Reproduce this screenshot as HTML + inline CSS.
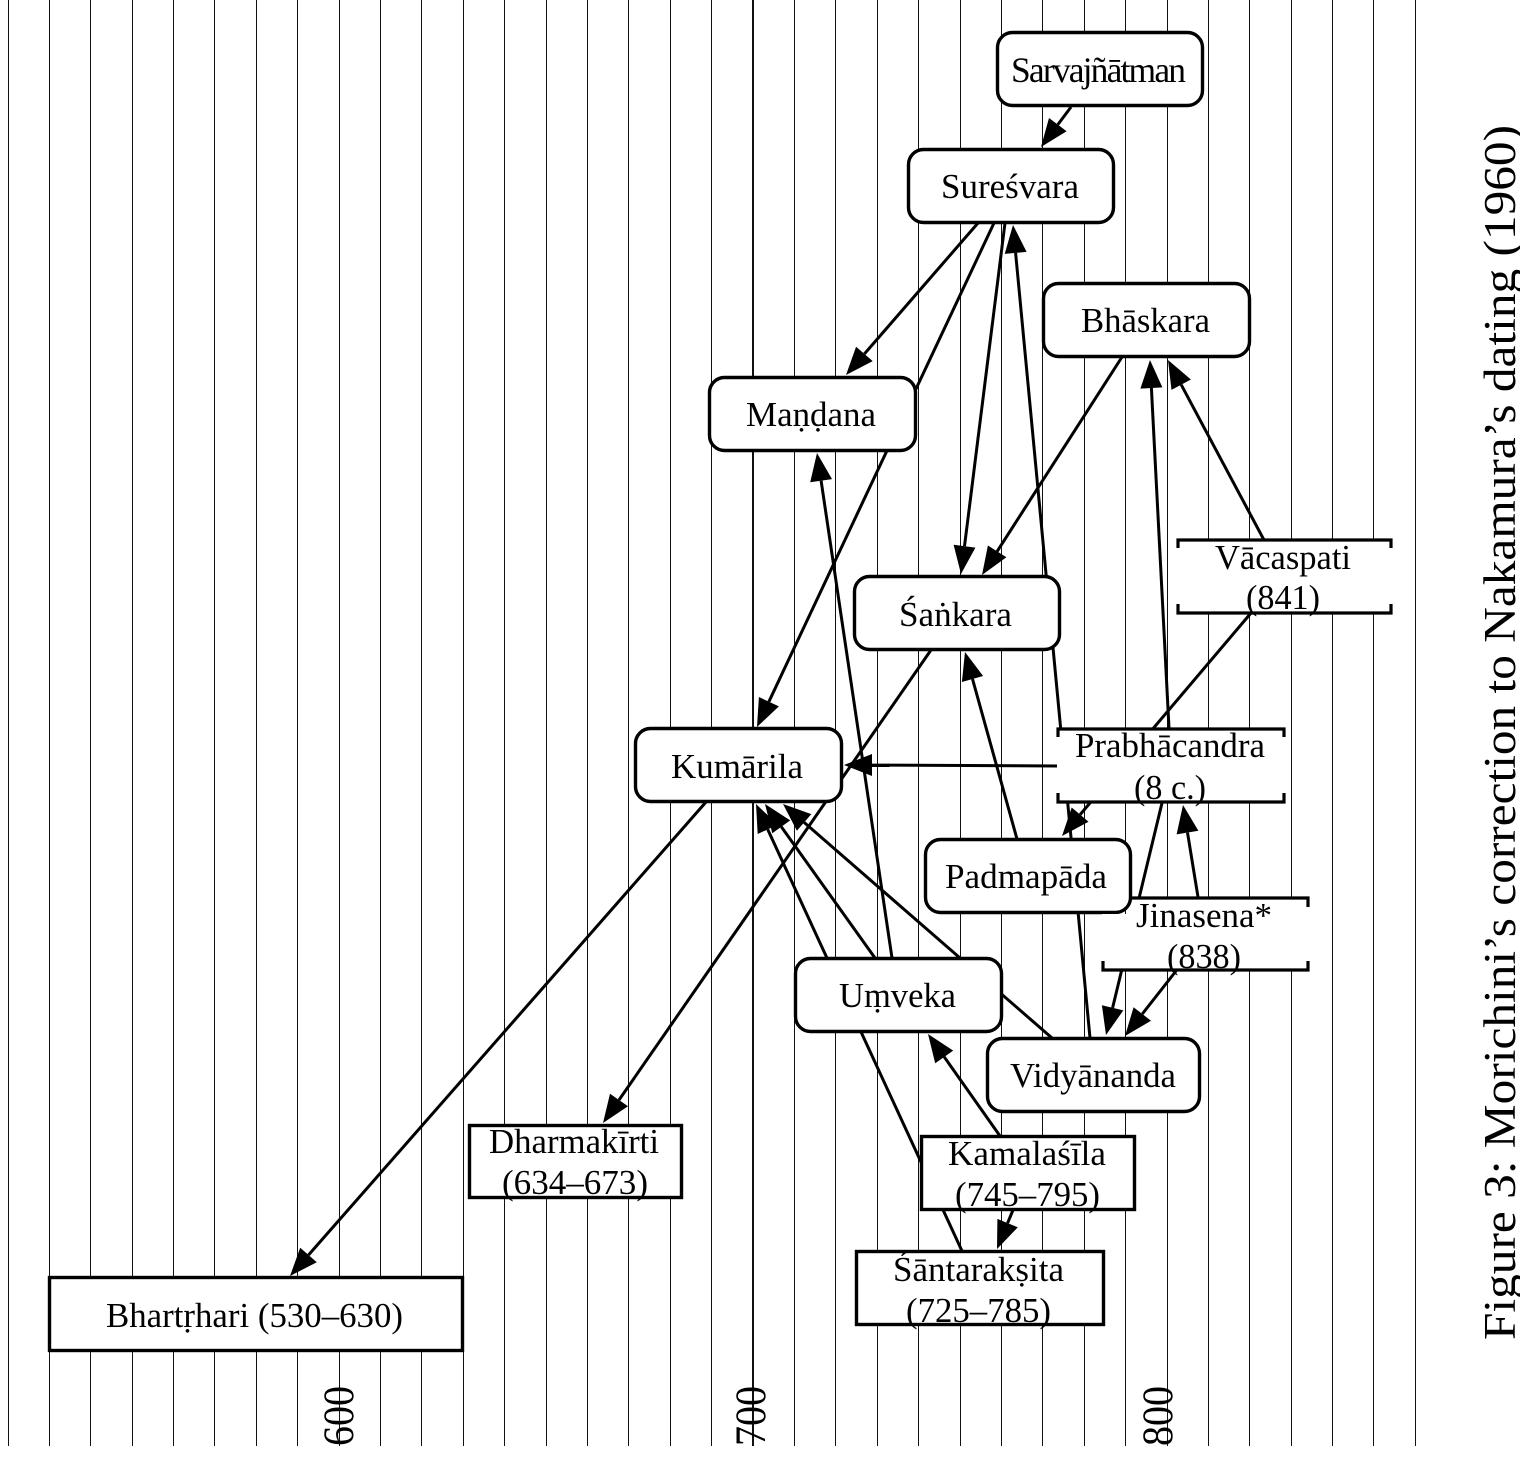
<!DOCTYPE html>
<html><head><meta charset="utf-8"><style>
html,body{margin:0;padding:0;background:#fff;width:1520px;height:1458px;overflow:hidden}
svg{display:block}
text{font-family:"Liberation Serif",serif;fill:#000;font-size:34.5px}
.g line{stroke:#111;stroke-width:1;shape-rendering:crispEdges}
.e line{stroke:#000;stroke-width:3}
.e polygon{fill:#000}
.n rect{fill:#fff;stroke:#000;stroke-width:3.4}
.b path{fill:none;stroke:#000;stroke-width:3.2}
.w{fill:#fff;stroke:none}
</style></head><body>
<svg width="1520" height="1458" viewBox="0 0 1520 1458" xmlns="http://www.w3.org/2000/svg">
<g class="g">
<line x1="8.5" y1="0" x2="8.5" y2="1446"/><line x1="49.5" y1="0" x2="49.5" y2="1446"/><line x1="90.5" y1="0" x2="90.5" y2="1446"/><line x1="132.5" y1="0" x2="132.5" y2="1446"/><line x1="173.5" y1="0" x2="173.5" y2="1446"/><line x1="214.5" y1="0" x2="214.5" y2="1446"/><line x1="256.5" y1="0" x2="256.5" y2="1446"/><line x1="297.5" y1="0" x2="297.5" y2="1446"/><line x1="339.5" y1="0" x2="339.5" y2="1446"/><line x1="380.5" y1="0" x2="380.5" y2="1446"/><line x1="421.5" y1="0" x2="421.5" y2="1446"/><line x1="463.5" y1="0" x2="463.5" y2="1446"/><line x1="504.5" y1="0" x2="504.5" y2="1446"/><line x1="546.5" y1="0" x2="546.5" y2="1446"/><line x1="587.5" y1="0" x2="587.5" y2="1446"/><line x1="628.5" y1="0" x2="628.5" y2="1446"/><line x1="670.5" y1="0" x2="670.5" y2="1446"/><line x1="711.5" y1="0" x2="711.5" y2="1446"/><line x1="753" y1="0" x2="753" y2="1446" style="stroke-width:2"/><line x1="794.5" y1="0" x2="794.5" y2="1446"/><line x1="835.5" y1="0" x2="835.5" y2="1446"/><line x1="877.5" y1="0" x2="877.5" y2="1446"/><line x1="918.5" y1="0" x2="918.5" y2="1446"/><line x1="960.5" y1="0" x2="960.5" y2="1446"/><line x1="1001.5" y1="0" x2="1001.5" y2="1446"/><line x1="1042.5" y1="0" x2="1042.5" y2="1446"/><line x1="1084.5" y1="0" x2="1084.5" y2="1446"/><line x1="1125.5" y1="0" x2="1125.5" y2="1446"/><line x1="1167.5" y1="0" x2="1167.5" y2="1446"/><line x1="1208.5" y1="0" x2="1208.5" y2="1446"/><line x1="1249.5" y1="0" x2="1249.5" y2="1446"/><line x1="1291.5" y1="0" x2="1291.5" y2="1446"/><line x1="1332.5" y1="0" x2="1332.5" y2="1446"/><line x1="1373.5" y1="0" x2="1373.5" y2="1446"/><line x1="1415.5" y1="0" x2="1415.5" y2="1446"/>
</g>
<g class="e">
<line x1="1071" y1="107" x2="1057.8" y2="124.6"/><polygon points="1041,147 1066.6,131.2 1049,118"/>
<line x1="978" y1="223" x2="864.4" y2="353.9"/><polygon points="846,375 872.7,361.1 856.1,346.7"/>
<line x1="994" y1="223" x2="768.9" y2="701.7"/><polygon points="757,727 778.9,706.4 758.9,697"/>
<line x1="1005" y1="223" x2="964.5" y2="546.2"/><polygon points="961,574 975.4,547.6 953.6,544.8"/>
<line x1="1122" y1="357" x2="997.1" y2="551.4"/><polygon points="982,575 1006.4,557.3 987.9,545.5"/>
<line x1="1090" y1="1038" x2="1015.6" y2="252.9"/><polygon points="1013,225 1026.6,251.9 1004.7,253.9"/>
<line x1="1169" y1="728" x2="1151.4" y2="388"/><polygon points="1150,360 1162.4,387.4 1140.4,388.6"/>
<line x1="1264" y1="540" x2="1181.2" y2="384.7"/><polygon points="1168,360 1190.9,379.5 1171.5,389.9"/>
<line x1="1251" y1="613" x2="1080.1" y2="814.6"/><polygon points="1062,836 1088.5,821.7 1071.7,807.5"/>
<line x1="1058" y1="766" x2="872" y2="765.1"/><polygon points="844,765 872,776 872,754"/>
<line x1="1017" y1="839" x2="972.5" y2="679"/><polygon points="965,652 983.1,676 961.9,682"/>
<line x1="931" y1="650" x2="619" y2="1100"/><polygon points="603,1123 628,1106.3 610,1093.7"/>
<line x1="706" y1="802" x2="308.5" y2="1255"/><polygon points="290,1276 316.8,1262.2 300.2,1247.7"/>
<line x1="892" y1="958" x2="821.1" y2="480.7"/><polygon points="817,453 832,479.1 810.2,482.3"/>
<line x1="875" y1="958" x2="781.3" y2="826.8"/><polygon points="765,804 790.2,820.4 772.3,833.2"/>
<line x1="962" y1="1251" x2="767.7" y2="829.4"/><polygon points="756,804 777.7,824.8 757.7,834"/>
<line x1="1052" y1="1038" x2="804.1" y2="822.4"/><polygon points="783,804 811.3,814.1 796.9,830.7"/>
<line x1="1162" y1="803" x2="1112.6" y2="1007.8"/><polygon points="1106,1035 1123.3,1010.4 1101.9,1005.2"/>
<line x1="1198" y1="897" x2="1187.5" y2="832.6"/><polygon points="1183,805 1198.4,830.8 1176.6,834.4"/>
<line x1="1176" y1="971" x2="1142.3" y2="1014"/><polygon points="1125,1036 1151,1020.8 1133.6,1007.2"/>
<line x1="1000" y1="1136" x2="944.2" y2="1056.9"/><polygon points="928,1034 953.2,1050.6 935.2,1063.2"/>
<line x1="1013" y1="1210" x2="1007.6" y2="1223.1"/><polygon points="997,1249 1017.8,1227.3 997.4,1218.9"/>
</g>
<g class="n">
<rect x="997.5" y="32.5" width="205" height="73" rx="15"/>
<rect x="908.5" y="149.5" width="205" height="73" rx="15"/>
<rect x="1043.5" y="283.5" width="206" height="73" rx="15"/>
<rect x="709.5" y="377.5" width="206" height="73" rx="15"/>
<rect x="854.5" y="576.5" width="205" height="73" rx="15"/>
<rect x="635.5" y="728.5" width="206" height="73" rx="15"/>
<rect x="925.5" y="839.5" width="205" height="73" rx="15"/>
<rect x="795.5" y="958.5" width="206" height="73" rx="15"/>
<rect x="987.5" y="1038.5" width="212" height="73" rx="15"/>
<rect x="469.5" y="1125.5" width="212" height="72"/>
<rect x="921.5" y="1136.5" width="213" height="73"/>
<rect x="856.5" y="1251.5" width="247" height="73"/>
<rect x="49.5" y="1277.5" width="413" height="73"/>
</g>
<rect class="w" x="1178" y="540" width="213" height="73"/>
<rect class="w" x="1057" y="728" width="228" height="75"/>
<rect class="w" x="1132" y="897" width="177" height="74"/>
<rect class="w" x="1102" y="914" width="207" height="57"/>
<g class="b">
<path d="M1178,548V540H1391V548M1178,604V613H1391V604"/>
<path d="M1058,737V729H1284V737M1058,793V802H1284V793"/>
<path d="M1132,898H1308V907M1103,961V970H1308V961"/>
</g>
<text x="1011" y="82" textLength="175" lengthAdjust="spacing" style="font-size:35.5px">Sarvajñātman</text>
<text x="941" y="198" textLength="138" lengthAdjust="spacingAndGlyphs">Sureśvara</text>
<text x="1081" y="332" textLength="129" lengthAdjust="spacingAndGlyphs">Bhāskara</text>
<text x="746" y="426" textLength="130" lengthAdjust="spacingAndGlyphs">Maṇḍana</text>
<text x="899" y="626" textLength="113" lengthAdjust="spacingAndGlyphs">Śaṅkara</text>
<text x="671" y="778" textLength="132" lengthAdjust="spacingAndGlyphs">Kumārila</text>
<text x="945" y="888" textLength="162" lengthAdjust="spacingAndGlyphs">Padmapāda</text>
<text x="839" y="1007" textLength="117" lengthAdjust="spacingAndGlyphs">Uṃveka</text>
<text x="1010" y="1087" textLength="166" lengthAdjust="spacingAndGlyphs">Vidyānanda</text>
<text x="489" y="1153" textLength="170" lengthAdjust="spacingAndGlyphs">Dharmakīrti</text>
<text x="502" y="1194" textLength="146" lengthAdjust="spacingAndGlyphs">(634–673)</text>
<text x="948" y="1165" textLength="158" lengthAdjust="spacingAndGlyphs">Kamalaśīla</text>
<text x="955" y="1206" textLength="145" lengthAdjust="spacingAndGlyphs">(745–795)</text>
<text x="893" y="1281" textLength="171" lengthAdjust="spacingAndGlyphs">Śāntarakṣita</text>
<text x="906" y="1322" textLength="145" lengthAdjust="spacingAndGlyphs">(725–785)</text>
<text x="106" y="1327" textLength="297" lengthAdjust="spacingAndGlyphs">Bhartṛhari (530–630)</text>
<text x="1215" y="569" textLength="136" lengthAdjust="spacingAndGlyphs">Vācaspati</text>
<text x="1246" y="609" textLength="74" lengthAdjust="spacingAndGlyphs">(841)</text>
<text x="1075" y="757" textLength="190" lengthAdjust="spacingAndGlyphs">Prabhācandra</text>
<text x="1134" y="799" textLength="72" lengthAdjust="spacingAndGlyphs">(8 c.)</text>
<text x="1136" y="927" textLength="136" lengthAdjust="spacingAndGlyphs">Jinasena*</text>
<text x="1167" y="968" textLength="74" lengthAdjust="spacingAndGlyphs">(838)</text>
<text transform="translate(353,1446) rotate(-90)" style="font-size:43px" textLength="60" lengthAdjust="spacingAndGlyphs">600</text>
<text transform="translate(765,1446) rotate(-90)" style="font-size:43px" textLength="60" lengthAdjust="spacingAndGlyphs">700</text>
<text transform="translate(1172,1446) rotate(-90)" style="font-size:43px" textLength="60" lengthAdjust="spacingAndGlyphs">800</text>
<rect class="w" x="300" y="1446" width="900" height="12"/>
<text transform="translate(1515,1340) rotate(-90)" style="font-size:45px" textLength="1215" lengthAdjust="spacingAndGlyphs">Figure 3: Morichini’s correction to Nakamura’s dating (1960)</text>
</svg>
</body></html>
